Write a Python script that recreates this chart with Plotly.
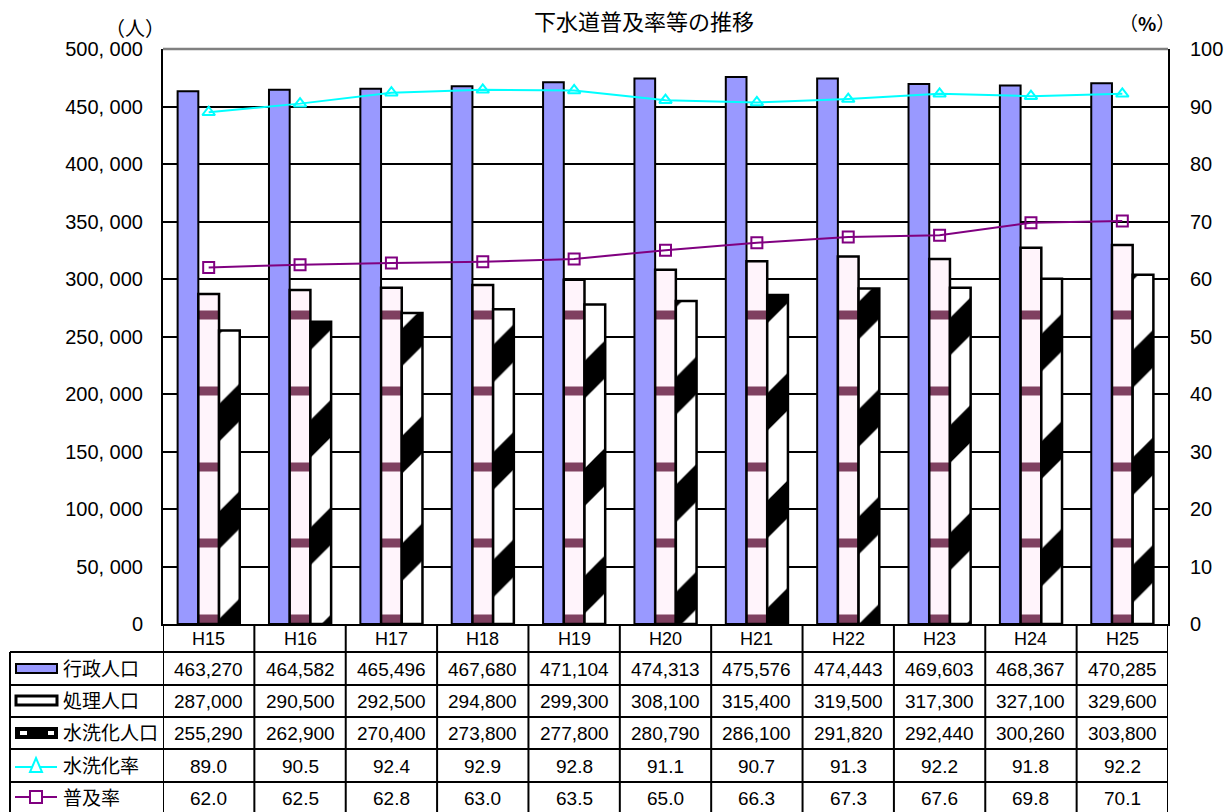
import plotly.graph_objects as go

categories = ["H15", "H16", "H17", "H18", "H19", "H20", "H21", "H22", "H23", "H24", "H25"]
gyosei = [463270, 464582, 465496, 467680, 471104, 474313, 475576, 474443, 469603, 468367, 470285]
shori = [287000, 290500, 292500, 294800, 299300, 308100, 315400, 319500, 317300, 327100, 329600]
suisenka_pop = [255290, 262900, 270400, 273800, 277800, 280790, 286100, 291820, 292440, 300260, 303800]
suisenka_rate = [89.0, 90.5, 92.4, 92.9, 92.8, 91.1, 90.7, 91.3, 92.2, 91.8, 92.2]
fukyu_rate = [62.0, 62.5, 62.8, 63.0, 63.5, 65.0, 66.3, 67.3, 67.6, 69.8, 70.1]
row_labels = ["行政人口", "処理人口", "水洗化人口", "水洗化率", "普及率"]
left_ticks = list(range(0, 500001, 50000))
right_ticks = list(range(0, 101, 10))

W, H = 1231, 812
L, R, T, B = 163, 1168, 49, 624
FONT = "Liberation Sans, Noto Sans CJK JP, sans-serif"


def px2x(px):
    return (px - L) / (R - L)


def py2y(py):
    return (B - py) / (B - T)


x_idx = list(range(len(categories)))

fig = go.Figure()
fig.add_trace(go.Bar(
    x=x_idx, y=gyosei, name=row_labels[0],
    marker=dict(color="#9999FF", line=dict(color="black", width=2)),
))
fig.add_trace(go.Bar(
    x=x_idx, y=shori, name=row_labels[1],
    marker=dict(color="#FFF4FB", line=dict(color="black", width=2.5),
                pattern=dict(shape="-", fgcolor="#7F4060", bgcolor="#FFF4FB", fgopacity=1,
                             size=76, solidity=0.12)),
))
fig.add_trace(go.Bar(
    x=x_idx, y=suisenka_pop, name=row_labels[2],
    marker=dict(color="white", line=dict(color="black", width=2.5),
                pattern=dict(shape="/", fgcolor="black", bgcolor="white", fgopacity=1,
                             size=76, solidity=0.35)),
))
fig.add_trace(go.Scatter(
    x=x_idx, y=suisenka_rate, name=row_labels[3], yaxis="y2", mode="lines+markers",
    line=dict(color="#00FFFF", width=2),
    marker=dict(symbol="triangle-up-open", size=11, color="#00FFFF", line=dict(width=2, color="#00FFFF")),
))
fig.add_trace(go.Scatter(
    x=x_idx, y=fukyu_rate, name=row_labels[4], yaxis="y2", mode="lines+markers",
    line=dict(color="#800080", width=2),
    marker=dict(symbol="square-open", size=11, color="#800080", line=dict(width=2, color="#800080")),
))

shapes = []
annotations = []

# top gray border line
shapes.append(dict(type="line", xref="paper", yref="paper", x0=0, x1=1, y0=1, y1=1,
                   line=dict(color="#808080", width=2.5), layer="above"))

# table grid
row_edges_px = [652, 685, 717, 749, 782, 816]
for py in row_edges_px:
    shapes.append(dict(type="line", xref="paper", yref="paper", x0=px2x(10), x1=1,
                       y0=py2y(py), y1=py2y(py), line=dict(color="black", width=2)))
for i in range(len(categories) + 1):
    shapes.append(dict(type="line", xref="x", yref="paper", x0=i - 0.5, x1=i - 0.5,
                       y0=0, y1=py2y(816), line=dict(color="black", width=2)))
shapes.append(dict(type="line", xref="paper", yref="paper", x0=px2x(10), x1=px2x(10),
                   y0=py2y(652), y1=py2y(816), line=dict(color="black", width=2)))

header_y = 639
row_centers = [669, 701, 733, 766, 798]
for i, c in enumerate(categories):
    annotations.append(dict(x=i, y=py2y(header_y), xref="x", yref="paper", text=c,
                            xanchor="center", yanchor="middle",
                            showarrow=False, font=dict(size=18, color="black", family=FONT)))

table_rows = [
    [f"{v:,}" for v in gyosei],
    [f"{v:,}" for v in shori],
    [f"{v:,}" for v in suisenka_pop],
    [f"{v:.1f}" for v in suisenka_rate],
    [f"{v:.1f}" for v in fukyu_rate],
]
for r, vals in enumerate(table_rows):
    for i, t in enumerate(vals):
        annotations.append(dict(x=i, y=py2y(row_centers[r]), xref="x", yref="paper", text=t,
                                xanchor="center", yanchor="middle",
                                showarrow=False, font=dict(size=19, color="black", family=FONT)))
    annotations.append(dict(x=px2x(61), y=py2y(row_centers[r]), xref="paper", yref="paper",
                            text=row_labels[r], showarrow=False, xanchor="left", yanchor="middle",
                            font=dict(size=19, color="black", family=FONT)))

# legend keys
def rect(x0, y0, x1, y1, fill, lc="black", lw=2):
    shapes.append(dict(type="rect", xref="paper", yref="paper", x0=px2x(x0), x1=px2x(x1),
                       y0=py2y(y0), y1=py2y(y1), fillcolor=fill, line=dict(color=lc, width=lw)))

rect(16, 664, 57, 673, "#9999FF")
rect(16, 696, 57, 705, "white", lw=3)
rect(16, 728, 57, 738, "black")
rect(20, 731, 27, 735, "white", lc="white", lw=0)
rect(48, 731, 54, 735, "white", lc="white", lw=0)

for py, col in [(767, "#00FFFF"), (797, "#800080")]:
    shapes.append(dict(type="line", xref="paper", yref="paper", x0=px2x(15), x1=px2x(57),
                       y0=py2y(py), y1=py2y(py), line=dict(color=col, width=2)))
tri = f"M {px2x(30)} {py2y(772)} L {px2x(42)} {py2y(772)} L {px2x(36)} {py2y(758)} Z"
shapes.append(dict(type="path", xref="paper", yref="paper", path=tri, fillcolor="white",
                   line=dict(color="#00FFFF", width=2)))
rect(30, 791, 42, 803, "white", lc="#800080", lw=2)

# axis unit labels
annotations.append(dict(x=px2x(135), y=py2y(28), xref="paper", yref="paper", text="（人）",
                        xanchor="center", yanchor="middle",
                        showarrow=False, font=dict(size=20, color="black", family="Noto Sans CJK JP")))
annotations.append(dict(x=px2x(1147), y=py2y(22), xref="paper", yref="paper", text="（<b>%</b>）",
                        xanchor="center", yanchor="middle",
                        showarrow=False, font=dict(size=19, color="black", family="Noto Sans CJK JP")))

fig.update_layout(
    width=W, height=H,
    margin=dict(l=L, r=W - R, t=T, b=H - B, pad=0, autoexpand=False),
    paper_bgcolor="white", plot_bgcolor="white",
    barmode="group", bargap=0.32, bargroupgap=0,
    showlegend=False,
    title=dict(text="下水道普及率等の推移", x=644 / W, y=1 - 22 / H, xref="container",
               yref="container", xanchor="center", yanchor="middle", automargin=False,
               font=dict(size=22, color="black", family=FONT)),
    xaxis=dict(range=[-0.5, len(categories) - 0.5], showticklabels=False, ticks="",
               automargin=False,
               showgrid=False, zeroline=False, showline=True, linecolor="black", linewidth=2),
    yaxis=dict(range=[0, 500000], tickvals=left_ticks, automargin=False,
               ticktext=[f"{v:,}".replace(",", ", ") for v in left_ticks],
               showgrid=True, gridcolor="black", gridwidth=2, zeroline=False,
               showline=True, linecolor="black", linewidth=2,
               ticks="inside", ticklen=6, tickwidth=2, tickcolor="black",
               ticklabelstandoff=14,
               tickfont=dict(size=20, color="black", family=FONT)),
    yaxis2=dict(range=[0, 100], tickvals=right_ticks, overlaying="y", side="right",
                automargin=False,
                showgrid=False, zeroline=False, showline=True, linecolor="black", linewidth=2,
                ticks="inside", ticklen=6, tickwidth=2, tickcolor="black",
                ticklabelstandoff=16,
                tickfont=dict(size=20, color="black", family=FONT)),
    shapes=shapes, annotations=annotations,
)

fig.write_html("out.html", config={"displayModeBar": False},
               post_script="document.body.style.margin='0';document.body.style.overflow='hidden';")
